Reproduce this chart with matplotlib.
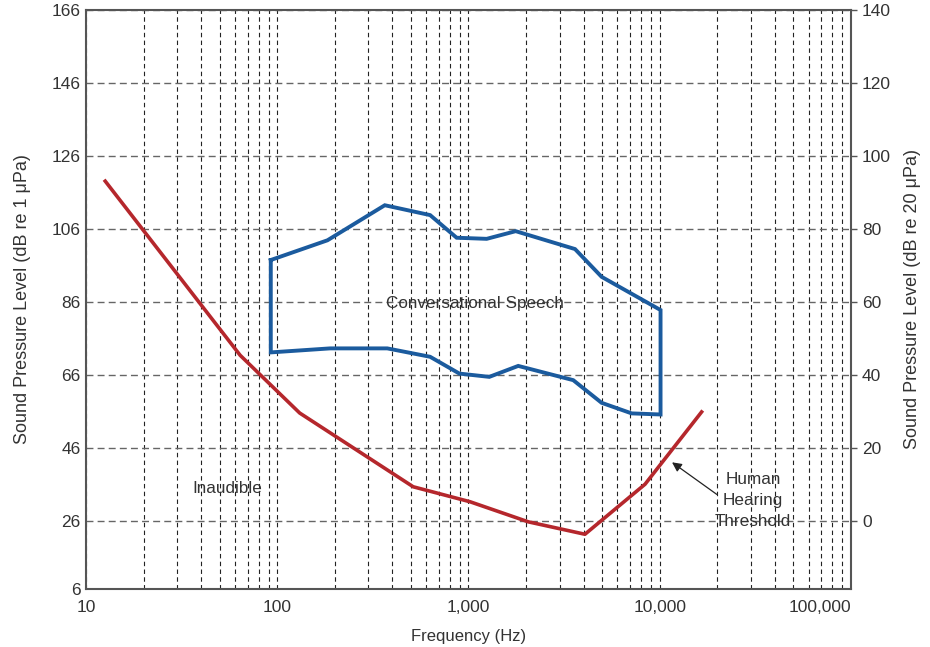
import matplotlib
matplotlib.use("Agg")
import matplotlib.pyplot as plt
from matplotlib.ticker import FixedLocator, LogLocator, NullFormatter

plt.rcParams['font.family'] = ['Liberation Sans', 'DejaVu Sans']

# hearing threshold (Hz, dB re 1 uPa)
thresh_freq = [12.6, 64, 131, 514, 1019, 2055, 4064, 8380, 16560]
thresh_db = [119, 71.3, 55.5, 35.3, 31.2, 25.7, 22.3, 36, 55.8]

# conversational speech region outline
speech_freq = [92.5, 183, 365, 630, 867, 1245, 1766, 3606, 4966, 10100,
               10100, 7130, 4966, 3530, 1820, 1285, 896, 630, 376, 189, 92.5, 92.5]
speech_db = [97.4, 102.8, 112.4, 109.7, 103.5, 103.2, 105.3, 100.4, 92.8, 83.7,
             55.1, 55.4, 58.3, 64.5, 68.4, 65.4, 66.3, 70.9, 73.2, 73.2, 72.1, 97.4]

left_ticks = [26, 46, 66, 86, 106, 126, 146, 166]
right_ticks = [0, 20, 40, 60, 80, 100, 120, 140]
x_ticks = [10, 100, 1000, 10000, 100000]
x_labels = ["10", "100", "1,000", "10,000", "100,000"]

text_col = '#333333'
ymin, ymax = 7.3, 166

fig = plt.figure(figsize=(9.3, 6.47), dpi=100)
ax = fig.add_axes([0.0925, 0.0896, 0.8225, 0.8957])
ax.set_xscale('log')
ax.set_xlim(10, 100000)
ax.set_ylim(ymin, ymax)

# grid
ax.xaxis.set_major_locator(FixedLocator(x_ticks))
ax.xaxis.set_minor_locator(LogLocator(base=10, subs=range(2, 10)))
ax.xaxis.set_minor_formatter(NullFormatter())
ax.set_xticklabels(x_labels)
ax.set_yticks([ymin] + left_ticks)
ax.set_yticklabels(["6"] + [str(t) for t in left_ticks])
ax.grid(True, which='both', axis='x', color='#222222', linestyle=(0, (4, 3)), linewidth=0.8)
ax.grid(True, which='major', axis='y', color='#666666', linestyle=(0, (5, 3)), linewidth=1.0)
ax.set_axisbelow(True)

ax.plot(thresh_freq, thresh_db, color='#B5272C', linewidth=2.6, zorder=3)
ax.plot(speech_freq, speech_db, color='#1B5B9E', linewidth=2.8, zorder=3,
        solid_joinstyle='miter')

ax.text(1080, 85.6, "Conversational Speech", ha='center', va='center',
        fontsize=12.3, color=text_col)
ax.text(55, 34.9, "Inaudible", ha='center', va='center', fontsize=12.3, color=text_col)
ax.text(30800, 31.6, "Human\nHearing\nThreshold", ha='center', va='center',
        fontsize=12.3, color=text_col, linespacing=1.5)
ax.annotate("", xy=(11600, 42), xytext=(19900, 33.2),
            arrowprops=dict(arrowstyle='-|>', color='#222222', lw=0.9,
                            mutation_scale=14, shrinkA=0, shrinkB=0))

for s in ax.spines.values():
    s.set_color('#555555')
    s.set_linewidth(1.5)

ax.tick_params(axis='both', which='both', length=0, labelsize=12.5, colors=text_col)
ax.tick_params(axis='x', pad=8)
ax.tick_params(axis='y', pad=4)
for lab in ax.get_xticklabels():
    if lab.get_text() == "100,000":
        lab.set_horizontalalignment('right')

ax.set_xlabel("Frequency (Hz)", fontsize=12, color=text_col, labelpad=10)
ax.set_ylabel("Sound Pressure Level (dB re 1 \u03bcPa)", fontsize=13, color=text_col, labelpad=15)

ax2 = ax.twinx()
ax2.set_ylim(ymin - 26, ymax - 26)
ax2.set_yticks(right_ticks)
ax2.tick_params(axis='y', length=4, width=1, colors='#555555', labelcolor=text_col,
                labelsize=12.5, pad=4)
for s in ax2.spines.values():
    s.set_visible(False)
ax2.set_ylabel("Sound Pressure Level (dB re 20 \u03bcPa)", fontsize=13, color=text_col, labelpad=9)

fig.savefig("out.png", dpi=100)
